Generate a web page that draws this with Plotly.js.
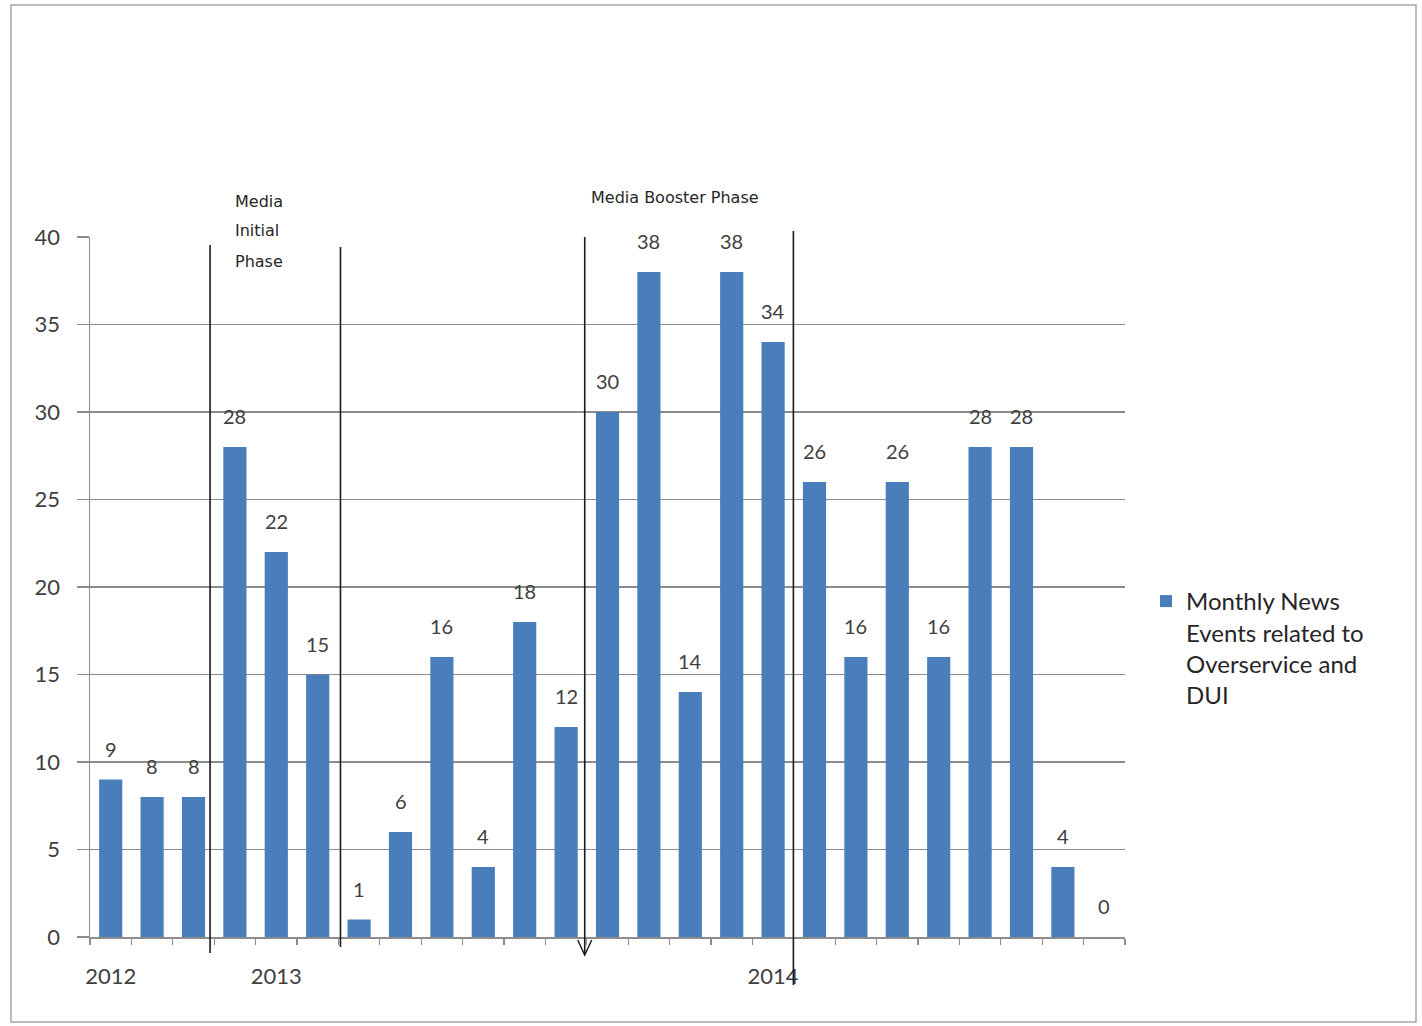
<!DOCTYPE html>
<html>
<head>
<meta charset="utf-8">
<script src="https://cdn.plot.ly/plotly-3.0.1.min.js"></script>
<style>html,body{margin:0;padding:0;background:#fff;}#chart{width:1422px;height:1026px;}</style>
</head>
<body>
<div id="chart"></div>
<script>
// ---- data ----
const monthIndex = [1,2,3,4,5,6,7,8,9,10,11,12,13,14,15,16,17,18,19,20,21,22,23,24,25];
const newsEvents = [9,8,8,28,22,15,1,6,16,4,18,12,30,38,14,38,34,26,16,26,16,28,28,4,0];
const yearTickIndex = [1,5,17];
const yearLabels = ['2012','2013','2014'];
const seriesName = 'Monthly News<br>Events related to<br>Overservice and<br>DUI';

// ---- layout helpers ----
const W = 1422, H = 1026;
const L = 90, R = 1125, T = 237, B = 937;
const px2x = p => (p - L) / (R - L);
const py2y = p => (B - p) / (B - T);
const unitsPerPx = 25 / (R - L);

const lineColor = '#1a1a1a';
function vline(xv, topPx, botPx) {
  return {type:'line', xref:'x', yref:'paper', x0:xv, x1:xv, y0:py2y(botPx), y1:py2y(topPx),
          line:{color:lineColor, width:1.6}};
}
const shapes = [
  {type:'rect', xref:'paper', yref:'paper', x0:px2x(11), x1:px2x(1416), y0:py2y(1022), y1:py2y(5),
   line:{color:'#a6a6a6', width:1.5}, fillcolor:'rgba(0,0,0,0)'},
  vline(3.4, 245, 953),
  vline(6.55, 247, 947),
  vline(12.45, 237, 955),
  vline(17.49, 231, 985),
  {type:'path', xref:'x', yref:'paper',
   path:`M ${12.45-7*unitsPerPx},${py2y(940)} L 12.45,${py2y(955)} L ${12.45+7*unitsPerPx},${py2y(940)}`,
   line:{color:lineColor, width:1.4}}
];

const txtFont = {family:'Lato, "Liberation Sans", sans-serif', size:20, color:'#404040'};
const annotations = monthIndex.map((m,i) => ({
  x:m, y:newsEvents[i], xref:'x', yref:'y', text:String(newsEvents[i]),
  showarrow:false, yshift:31, font:txtFont
}));
const phaseFont = {family:'"DejaVu Sans", sans-serif', size:16, color:'#262626'};
[['Media',201],['Initial',231],['Phase',261]].forEach(([t,p]) => {
  annotations.push({xref:'paper', yref:'paper', x:px2x(233), y:py2y(p), xanchor:'left', yanchor:'middle',
    text:t, showarrow:false, font:phaseFont});
});
annotations.push({xref:'paper', yref:'paper', x:px2x(675), y:py2y(197), xanchor:'center', yanchor:'middle',
  text:'Media Booster Phase', showarrow:false, font:phaseFont});

const trace = {
  type:'bar', x:monthIndex, y:newsEvents, name:seriesName,
  marker:{color:'#4a7ebb'}, width:0.56, showlegend:true, hoverinfo:'x+y'
};

const layout = {
  width:W, height:H,
  margin:{l:L, r:W-R, t:T, b:H-B, pad:0},
  paper_bgcolor:'#ffffff', plot_bgcolor:'#ffffff',
  font:txtFont,
  showlegend:true,
  legend:{x:px2x(1146), y:py2y(579), xanchor:'left', yanchor:'top', valign:'top',
          font:{family:'Lato, "Liberation Sans", sans-serif', size:24, color:'#262626'},
          itemwidth:30, tracegroupgap:0, bgcolor:'rgba(0,0,0,0)'},
  xaxis:{range:[0.5,25.5], tickmode:'array', tickvals:yearTickIndex, ticktext:yearLabels,
         ticks:'', ticklen:0, showgrid:false, zeroline:false,
         showline:true, linecolor:'#8c8c8c', linewidth:1.5,
         ticklabelstandoff:19, tickfont:{family:'Lato, "Liberation Sans", sans-serif', size:22, color:'#404040'},
         minor:{tick0:0.5, dtick:1, ticks:'outside', ticklen:6, tickcolor:'#8c8c8c', tickwidth:1.2, showgrid:false}},
  yaxis:{range:[0,40], dtick:5, tick0:0, ticks:'outside', ticklen:12, tickcolor:'#8c8c8c', tickwidth:1.5,
         showgrid:true, gridcolor:'#8c8c8c', gridwidth:1.5, zeroline:false,
         showline:true, linecolor:'#8c8c8c', linewidth:1.5, ticklabelstandoff:12,
         tickfont:{family:'Lato, "Liberation Sans", sans-serif', size:22, color:'#404040'}},
  bargap:0.44,
  shapes:shapes,
  annotations:annotations
};

Plotly.newPlot('chart', [trace], layout, {displayModeBar:false, staticPlot:true});
</script>
</body>
</html>
